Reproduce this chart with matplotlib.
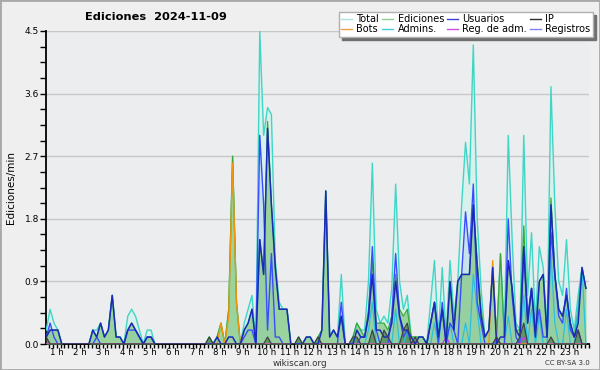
import numpy as np
import matplotlib.pyplot as plt
from matplotlib.lines import Line2D
from matplotlib.patches import Rectangle

# 10-minute bins, first bin at ~00:33
T0 = 0.55
STEP = 1 / 6

total = [0.2, 0.5, 0.3, 0.2, 0, 0, 0, 0, 0, 0, 0, 0,
         0.2, 0.2, 0.3, 0.1, 0.2, 0.7, 0.1, 0.1, 0, 0.4, 0.5, 0.4,
         0.2, 0, 0.2, 0.2, 0, 0, 0, 0, 0, 0, 0, 0,
         0, 0, 0, 0, 0, 0, 0.1, 0, 0.1, 0.3, 0, 0.5,
         2.7, 0.6, 0, 0.3, 0.5, 0.7, 0, 4.5, 3.0, 3.4, 3.3, 1.2,
         0.6, 0.5, 0.5, 0, 0, 0.1, 0, 0.1, 0.1, 0, 0.1, 0.2,
         2.2, 0.1, 0.2, 0.1, 1.0, 0, 0, 0.1, 0.3, 0.2, 0.2, 0.9,
         2.6, 0.5, 0.3, 0.4, 0.3, 0.8, 2.3, 0.9, 0.5, 0.7, 0.1, 0.1,
         0.1, 0.1, 0, 0.6, 1.2, 0.1, 1.1, 0.1, 1.2, 0.4, 0.9, 2.0,
         2.9, 2.3, 4.3, 1.8, 0.8, 0.1, 0.2, 1.1, 0.1, 1.3, 0.1, 3.0,
         1.5, 0.3, 0.2, 3.0, 0.7, 1.6, 0.3, 1.4, 1.1, 0.2, 3.7, 2.0,
         0.9, 0.7, 1.5, 0.5, 0.2, 0.7, 1.1, 0.8]

ediciones = [0.1, 0.2, 0.2, 0.2, 0, 0, 0, 0, 0, 0, 0, 0,
             0.2, 0.1, 0.3, 0.1, 0.2, 0.7, 0.1, 0.1, 0, 0.2, 0.3, 0.2,
             0.1, 0, 0.1, 0.1, 0, 0, 0, 0, 0, 0, 0, 0,
             0, 0, 0, 0, 0, 0, 0.1, 0, 0.1, 0.3, 0, 0.5,
             2.7, 0.6, 0, 0.2, 0.3, 0.5, 0, 1.5, 1.0, 3.2, 2.0, 1.1,
             0.5, 0.5, 0.5, 0, 0, 0.1, 0, 0.1, 0.1, 0, 0.1, 0.2,
             2.2, 0.1, 0.2, 0.1, 0.4, 0, 0, 0.1, 0.3, 0.2, 0.1, 0.5,
             1.2, 0.3, 0.3, 0.3, 0.2, 0.4, 1.0, 0.5, 0.4, 0.5, 0.1, 0.1,
             0.1, 0.1, 0, 0.3, 0.6, 0.1, 0.5, 0.1, 0.9, 0.2, 0.9, 1.0,
             1.0, 1.0, 2.0, 1.2, 0.5, 0.1, 0.2, 1.1, 0.1, 1.3, 0.1, 1.2,
             0.8, 0.2, 0.2, 1.7, 0.3, 0.8, 0.1, 0.9, 1.0, 0.1, 2.1, 1.0,
             0.5, 0.4, 0.7, 0.3, 0.1, 0.5, 1.1, 0.8]

usuarios = [0.1, 0.2, 0.2, 0.2, 0, 0, 0, 0, 0, 0, 0, 0,
            0.2, 0.1, 0.3, 0.1, 0.2, 0.7, 0.1, 0.1, 0, 0.2, 0.3, 0.2,
            0.1, 0, 0.1, 0.1, 0, 0, 0, 0, 0, 0, 0, 0,
            0, 0, 0, 0, 0, 0, 0, 0, 0.1, 0, 0, 0.1,
            0.1, 0, 0, 0.2, 0.3, 0.5, 0, 1.5, 1.0, 3.1, 2.0, 1.1,
            0.5, 0.5, 0.5, 0, 0, 0, 0, 0.1, 0.1, 0, 0, 0.2,
            2.2, 0.1, 0.2, 0.1, 0.4, 0, 0, 0, 0.2, 0.1, 0.1, 0.4,
            1.0, 0.2, 0.2, 0.1, 0.1, 0.3, 0.9, 0.4, 0.2, 0.2, 0.1, 0,
            0.1, 0.1, 0, 0.3, 0.6, 0.1, 0.5, 0, 0.9, 0.2, 0.9, 1.0,
            1.0, 1.0, 2.0, 1.1, 0.4, 0.1, 0.2, 1.1, 0, 0.1, 0.1, 1.2,
            0.8, 0.2, 0.1, 1.4, 0.3, 0.8, 0.1, 0.9, 1.0, 0.1, 2.0, 1.0,
            0.5, 0.4, 0.7, 0.3, 0.1, 0.3, 1.1, 0.8]

registros = [0.1, 0.3, 0.1, 0, 0, 0, 0, 0, 0, 0, 0, 0,
             0, 0.1, 0, 0, 0, 0, 0, 0, 0, 0.2, 0.2, 0.2,
             0.1, 0, 0.1, 0.1, 0, 0, 0, 0, 0, 0, 0, 0,
             0, 0, 0, 0, 0, 0, 0, 0, 0, 0, 0, 0,
             0, 0, 0, 0.1, 0.2, 0.2, 0, 3.0, 2.0, 0.2, 1.3, 0.1,
             0.1, 0, 0, 0, 0, 0, 0, 0, 0, 0, 0, 0,
             0, 0, 0, 0, 0.6, 0, 0, 0, 0, 0.1, 0.1, 0.4,
             1.4, 0.2, 0, 0, 0, 0.4, 1.3, 0.4, 0.1, 0.2, 0, 0,
             0, 0, 0, 0.3, 0.6, 0, 0.6, 0, 0.3, 0.2, 0, 1.0,
             1.9, 1.3, 2.3, 0.6, 0.3, 0, 0, 0, 0, 0, 0, 1.8,
             0.7, 0.1, 0, 1.3, 0.4, 0.8, 0.2, 0.5, 0.1, 0.1, 1.6, 1.0,
             0.4, 0.3, 0.8, 0.2, 0.1, 0.2, 0, 0]

ip = [0.1, 0, 0, 0, 0, 0, 0, 0, 0, 0, 0, 0,
      0, 0, 0, 0, 0, 0, 0, 0, 0, 0, 0, 0,
      0, 0, 0, 0, 0, 0, 0, 0, 0, 0, 0, 0,
      0, 0, 0, 0, 0, 0, 0.1, 0, 0, 0, 0, 0,
      0, 0, 0, 0, 0, 0, 0, 0, 0, 0.1, 0, 0,
      0, 0, 0, 0, 0, 0.1, 0, 0, 0, 0, 0.1, 0,
      0, 0, 0, 0, 0, 0, 0, 0.1, 0.1, 0, 0, 0,
      0.2, 0, 0, 0.2, 0.1, 0, 0, 0, 0.2, 0.3, 0, 0.1,
      0, 0, 0, 0, 0, 0, 0, 0, 0, 0, 0, 0,
      0, 0, 0, 0, 0, 0, 0, 0, 0.1, 0, 0, 0,
      0, 0, 0.1, 0.3, 0, 0, 0, 0, 0, 0, 0.1, 0,
      0, 0, 0, 0, 0, 0.2, 0, 0]

bots = [0, 0, 0, 0, 0, 0, 0, 0, 0, 0, 0, 0,
        0, 0, 0, 0, 0, 0, 0, 0, 0, 0, 0, 0,
        0, 0, 0, 0, 0, 0, 0, 0, 0, 0, 0, 0,
        0, 0, 0, 0, 0, 0, 0, 0, 0, 0.3, 0, 0.4,
        2.6, 0.6, 0, 0, 0, 0, 0, 0, 0, 0, 0, 0,
        0, 0, 0, 0, 0, 0, 0, 0, 0, 0, 0, 0,
        0, 0, 0, 0, 0, 0, 0, 0, 0, 0, 0, 0,
        0, 0, 0, 0, 0, 0, 0, 0, 0, 0, 0, 0,
        0, 0, 0, 0, 0, 0, 0, 0, 0, 0, 0, 0,
        0, 0, 0, 0, 0, 0, 0, 1.2, 0, 0, 0, 0,
        0, 0, 0, 0, 0, 0, 0, 0, 0, 0, 0, 0,
        0, 0, 0, 0, 0, 0, 0, 0]

admins = [0, 0, 0, 0, 0, 0, 0, 0, 0, 0, 0, 0,
          0, 0, 0, 0, 0, 0, 0, 0, 0, 0, 0, 0,
          0, 0, 0, 0, 0, 0, 0, 0, 0, 0, 0, 0,
          0, 0, 0, 0, 0, 0, 0, 0, 0, 0, 0, 0,
          0, 0, 0, 0, 0, 0, 0, 0, 0, 0, 0, 0,
          0, 0, 0, 0, 0, 0, 0, 0, 0, 0, 0, 0,
          0, 0, 0, 0, 0, 0, 0, 0, 0, 0, 0, 0.2,
          0.6, 0, 0, 0, 0, 0, 0.5, 0, 0, 0.2, 0, 0,
          0, 0, 0, 0, 0.3, 0, 0.5, 0, 0.3, 0, 0, 0,
          0.3, 0, 1.0, 0.5, 0, 0, 0, 0, 0, 0, 0, 0.4,
          0, 0, 0, 0.7, 0, 0.5, 0, 0.4, 0, 0, 1.3, 0.3,
          0, 0, 0.5, 0, 0, 0.5, 1.1, 0]

reg_adm = [0] * 103 + [0.1] + [0] * 12 + [0.1] + [0] * 6 + [0.1] + [0] * 16

hours = list(range(1, 24))
hour_labels = [f"{h} h" for h in hours]

t = T0 + STEP * np.arange(len(total))

fig = plt.figure(figsize=(6, 3.7), dpi=100, facecolor="#efefef")
ax = fig.add_axes([46 / 600, 26 / 370, 543 / 600, 313 / 370], facecolor="#ecedef")

# ── areas ──────────────────────────────────────────────
ax.fill_between(t, total, color="#d9f1ec", lw=0, zorder=1)
ax.fill_between(t, registros, color="#a8c8f0", alpha=0.35, lw=0, zorder=2)
ax.fill_between(t, ediciones, color="#86ca86", alpha=0.75, lw=0, zorder=3)
ax.fill_between(t, ip, color="#2a6a3a", alpha=0.55, lw=0, zorder=4)

# ── lines ──────────────────────────────────────────────
ax.plot(t, total, color="#3fd6c6", lw=1.0, zorder=5)
ax.plot(t, ediciones, color="#3aa83a", lw=0.9, zorder=5)
ax.plot(t, admins, color="#2cc0e0", lw=0.9, zorder=6)
ax.plot(t, registros, color="#3a4cff", lw=1.0, zorder=6)
ax.plot(t, bots, color="#f0960a", lw=1.0, zorder=7)
ax.plot(t, reg_adm, color="#c040e0", lw=0.9, zorder=7)
ax.plot(t, usuarios, color="#1a2ab8", lw=1.1, zorder=8)
ax.plot(t, ip, color="#404040", lw=0.9, zorder=8)

# ── axes ───────────────────────────────────────────────
ax.set_xlim(0.54, 23.85)
ax.set_ylim(0, 4.5)
ax.set_yticks(np.arange(0, 4.51, 0.9))
ax.set_yticklabels([f"{v:.1f}" for v in np.arange(0, 4.51, 0.9)])
ax.set_yticks(np.arange(0, 4.51, 0.225), minor=True)
ax.set_xticks(hours)
ax.set_xticklabels(hour_labels)
ax.set_xticks(np.arange(4, 144) / 6, minor=True)
ax.grid(axis="y", color="#c8c8c8", lw=1.0, zorder=0)
ax.set_axisbelow(True)
for s in ("top", "right"):
    ax.spines[s].set_visible(False)
ax.spines["left"].set_linewidth(1.3)
ax.spines["bottom"].set_linewidth(1.3)
ax.tick_params(axis="y", which="both", length=4, width=1, labelsize=6.5, pad=1)
ax.tick_params(axis="x", which="both", length=3, width=1, labelsize=6.2, pad=0)
ax.set_ylabel("Ediciones/min", fontsize=7.5, labelpad=6)

fig.text(85 / 600, 1 - 17 / 370, "Ediciones  2024-11-09", fontsize=8.2,
         fontweight="bold", va="center", ha="left")
fig.text(300 / 600, 1 - 363 / 370, "wikiscan.org", fontsize=6.3,
         ha="center", va="center", color="#333333")
fig.text(590 / 600, 1 - 363 / 370, "CC BY-SA 3.0", fontsize=5,
         ha="right", va="center", color="#333333")

# ── legend ─────────────────────────────────────────────
names = ["Total", "Bots", "Ediciones", "Admins.",
         "Usuarios", "Reg. de adm.", "IP", "Registros"]
leg_colors = ["#a8e4dc", "#f0a040", "#90d090", "#40d0e0",
              "#4040e0", "#d050e0", "#303030", "#8080f0"]
handles = [Line2D([], [], color=c, lw=1) for c in leg_colors]
fig.legend(handles, names, ncol=4, loc="upper right",
           bbox_to_anchor=(593 / 600, 1 - 12 / 370), fontsize=7,
           frameon=True, fancybox=False, shadow={"color": "#707070", "alpha": 1},
           edgecolor="#b0b0b0", facecolor="white", framealpha=1,
           handlelength=1.1, handletextpad=0.45, columnspacing=0.35,
           labelspacing=0.0, borderpad=0.25, borderaxespad=0)

fig.patches.append(Rectangle((0, 0), 1, 1, transform=fig.transFigure,
                             fill=False, edgecolor="#a8a8a8", lw=2))

fig.savefig("out.png", dpi=100, facecolor=fig.get_facecolor())
